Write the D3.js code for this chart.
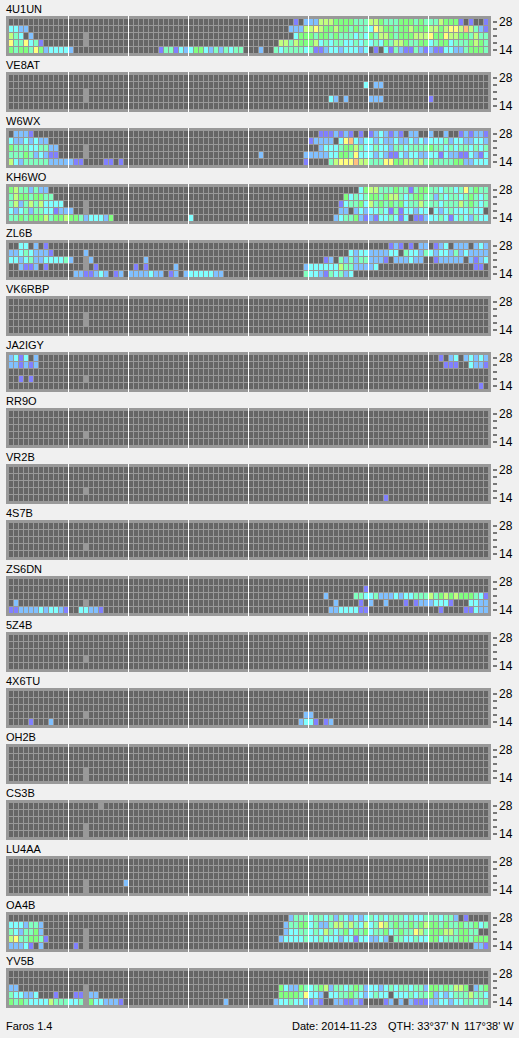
<!DOCTYPE html>
<html>
<head>
<meta charset="utf-8">
<script src="https://cdn.jsdelivr.net/npm/d3@7"></script>
<style>
html, body { margin: 0; padding: 0; background: #f0f0f0; overflow: hidden; }
svg { display: block; }
text { font-family: "Liberation Sans", sans-serif; font-size: 11px; fill: #000; }
.tick text { font-size: 12px; font-family: "Liberation Sans", sans-serif; }
</style>
</head>
<body>
<svg id="chart" width="519" height="1038"></svg>
<script>
const stations = ["4U1UN","VE8AT","W6WX","KH6WO","ZL6B","VK6RBP","JA2IGY","RR9O","VR2B","4S7B","ZS6DN","5Z4B","4X6TU","OH2B","CS3B","LU4AA","OA4B","YV5B"];
const bands = ["28","24","21","18","14"];
const bandLabels = ["28","14"];
const hourTicks = [12,24,36,48,60,72,84];
const appName = "Faros 1.4";
const footerParts = ["Date: 2014-11-23", "QTH: 33°37' N", "117°38' W"];

// levels 1..8, "." no signal, "#" slot with no data
const levelColors = ["#8080ff","#80c0ff","#80ffff","#80ffc0","#80ff80","#c0ff80","#ffff80","#ffc080"];

// one entry per station, five rows (28..14), "column:levels" runs
const heard = [
 ["57:1.22266655554446654445554544465551.1..1",
  "0:3322 56:2226676556554544376554556555665677686421",
  "0:643.2 15:# 57:35554 62:55454 67:44343 72:54665 77:45556 82:66755 87:76655 92:4644",
  "0:7447341 15:# 54:66465 59:55634 64:34433 69:43434 74:35466 79:54455 84:34553 89:44456 94:54",
  "0:5455475233332 30:1441323553 40:2424344... 50:2..4344443 60:4112332333 70:23.1.31421 80:1421211332 90:245554"],
 ["",
  "71:3 73:22",
  "15:#",
  "15:# 64:32.2 72:222 84:1",
  ""],
 ["1:2221 62:1112121.1.1232121.22..2..2..121221",
  "0:32232322 60:12222.378323 72:323223223232333423322332",
  "0:5444334422 15:# 62:23334556433 73:43324434444544343443 93:434",
  "0:4445423211 15:# 50:2 59:2222233554 69:7333232113 79:2332233132 89:2113213",
  "0:632444442222211 19:11 22:1 59:1 64:46777866444775566464544445522333"],
 ["0:56442422 70:3566444544 80:1455443443 90:474544",
  "0:465545544 67:5343455456 77:6434554424 87:344345434",
  "0:46246463333 15:# 66:1344536454 76:5453446444 86:3444645434",
  "0:3234244331222 15:# 66:22.2323343 76:14133233.3 86:234333433.",
  "0:44545556455 11:6554233325 36:3 65:2344521213 75:34313.1123 85:3431343243 95:3"],
 ["2:33 5:2 7:1 76:12 78:1 80:1 82:22 85:123 89:222 93:232",
  "0:22343222 8:1 15:2 68:3233222233 78:.433243233 88:24232222",
  "0:3323422333342 15:# 16:2 27:2 63:12 66:4242442221 77:222322 85:122222 92:2123",
  "2:2112 7:1 15:# 17:1 25:1 27:1 33:2 59:233333364422223 93:11",
  "13:2211232 21:12 24:2222 28:322 32:12 35:23333322 59:4332143423"],
 ["","","15:#","15:#",""],
 ["0:2313 5:2 86:1 88:23 91:2323 95:2",
  "0:221212 87:111 92:3221",
  "",
  "2:1 4:1 15:#",
  "94:1"],
 ["","","","15:#",""],
 ["","","","15:#","75:1"],
 ["","","","15:#",""],
 ["",
  "71:1",
  "63:2 69:4433422232 79:3344464565 89:6555431",
  "1:2 15:# 65:2 70:1 72:2 75:2 79:1 81:12223331 92:3322",
  "0:112222323321 14:33221 64:22333311 86:1 91:11322"],
 ["","","","15:#",""],
 ["","","","15:# 59:22","4:1 8:2 58:233 61:1 63:12"],
 ["","","","15:#","15:#"],
 ["18:#","","","15:#","15:#"],
 ["","","","15:# 23:2","15:#"],
 ["56:2444344342 66:4323234343 76:4443433444 86:3442.1",
  "0:3332442 55:2445534224 65:6646436347 75:6454454565 85:5454454453 95:4",
  "0:4324452 15:# 55:2334434364 65:3453545344 75:5345447645 85:556645544",
  "0:67445541 15:# 54:2333343343 64:3323313322 74:32.4433433 84:5534445545 94:55",
  "0:22231.2 13:1 15:# 93:221"],
 ["","",
  "0:22 15:# 54:5322543456 64:2443454233 74:2343443442 84:55454665.2 94:45",
  "0:433223 9:1 13:11 15:# 16:22 54:555547332. 64:3344543234 74:33.3334344 84:5232344464 94:43",
  "0:545433336444334 15:# 16:5332221 43:2 53:2334332121 63:..221121.. 73:..12.2.211 83:1223323344 93:344"]
];

const x = d3.scaleLinear().domain([0, 96]).range([9, 489]);
const y = d3.scaleBand().domain(bands).range([19, 53]).paddingInner(1/7).paddingOuter(0);
const yTick = d3.scalePoint().domain(bands).range([21.5, 49.5]);
const color = d3.scaleOrdinal().domain(d3.range(1, 9).map(String)).range(levelColors);
const panelTop = d3.scaleLinear().domain([0, 1]).range([0, 56]);

// "57:1.22 80:3" -> [{col, row, level}]
function parseRow(str, row) {
    const out = [];
    str.split(" ").filter(s => s).forEach(seg => {
        const [start, levels] = seg.split(":");
        levels.split("").forEach((lv, i) => {
            if (lv !== ".") out.push({ col: +start + i, row: bands[row], level: lv });
        });
    });
    return out;
}

const svg = d3.select("#chart");
const axisRight = d3.axisRight(yTick).tickSize(4).tickPadding(2)
    .tickFormat(d => bandLabels.includes(d) ? d : "");

const panels = svg.selectAll("g.panel").data(stations).enter().append("g")
    .attr("class", "panel")
    .attr("transform", (d, i) => `translate(0,${panelTop(i)})`);

panels.append("text").attr("x", 6).attr("y", 12.5).text(d => d);
panels.append("rect").attr("x", 6).attr("y", 16).attr("width", 485).attr("height", 40).attr("fill", "#999");

panels.each(function(name, i) {
    const g = d3.select(this);
    g.selectAll("rect.bg").data(d3.cross(d3.range(96), bands)).enter().append("rect")
        .attr("class", "bg")
        .attr("x", d => x(d[0])).attr("y", d => y(d[1]))
        .attr("width", 4).attr("height", y.bandwidth())
        .attr("fill", "#666");

    const cells = heard[i].flatMap(parseRow);
    // "#" cells swallow the grid lines around them
    g.selectAll("rect.cell").data(cells).enter().append("rect")
        .attr("class", "cell")
        .attr("x", d => d.level === "#" ? x(d.col) - 1 : x(d.col))
        .attr("y", d => d.level === "#" ? y(d.row) - 1 : y(d.row))
        .attr("width", d => d.level === "#" ? 6 : 4)
        .attr("height", d => d.level === "#" ? y.bandwidth() + 2 : y.bandwidth())
        .attr("fill", d => d.level === "#" ? "#999" : color(d.level));

    g.selectAll("rect.hour").data(hourTicks).enter().append("rect")
        .attr("class", "hour")
        .attr("x", d => x(d) - 1).attr("y", 16)
        .attr("width", 1).attr("height", 40)
        .attr("fill", "#fff");

    const ax = g.append("g").attr("transform", "translate(493,0)").call(axisRight);
    ax.select(".domain").remove();
});

svg.append("text").attr("x", 6).attr("y", 1030).text(appName);
const footerX = d3.scaleOrdinal().domain(footerParts).range([292, 388, 464]);
svg.selectAll("text.foot").data(footerParts).enter().append("text")
    .attr("class", "foot")
    .attr("x", d => footerX(d)).attr("y", 1030).text(d => d);
</script>
</body>
</html>
